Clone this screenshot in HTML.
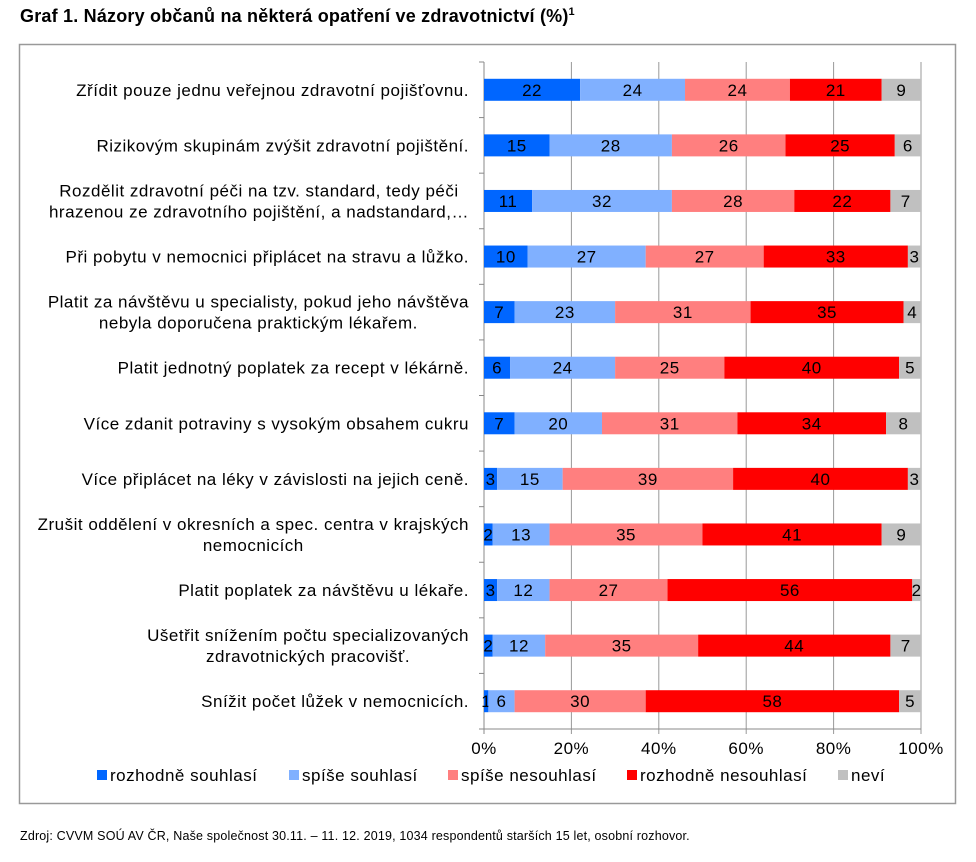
<!DOCTYPE html>
<html><head><meta charset="utf-8"><style>
body{margin:0;background:#fff;}
svg text{font-family:"Liberation Sans",Arial,sans-serif;fill:#000;}
</style></head><body>
<svg id="svg" width="976" height="857" xmlns="http://www.w3.org/2000/svg">
<text x="20" y="22" font-size="18" font-weight="bold" letter-spacing="0.2">Graf 1. Názory občanů na některá opatření ve zdravotnictví (%)<tspan font-size="11" dy="-7">1</tspan></text>
<rect x="19.5" y="44.5" width="936" height="759" fill="#fff" stroke="#999" stroke-width="1.5"/>
<g id="grid"></g><g id="bars"></g><g id="labels"></g><g id="ticks"></g><g id="legend"></g>
<text x="20" y="840" font-size="12.5" letter-spacing="0.18">Zdroj: CVVM SOÚ AV ČR, Naše společnost 30.11. – 11. 12. 2019, 1034 respondentů starších 15 let, osobní rozhovor.</text>
</svg>
<script>
const categories=[
["Zřídit pouze jednu veřejnou zdravotní pojišťovnu."],
["Rizikovým skupinám zvýšit zdravotní pojištění."],
["Rozdělit zdravotní péči na tzv. standard, tedy péči","hrazenou ze zdravotního pojištění, a nadstandard,…"],
["Při pobytu v nemocnici připlácet na stravu a lůžko."],
["Platit za návštěvu u specialisty, pokud jeho návštěva","nebyla doporučena praktickým lékařem."],
["Platit jednotný poplatek za recept v lékárně."],
["Více zdanit potraviny s vysokým obsahem cukru"],
["Více připlácet na léky v závislosti na jejich ceně."],
["Zrušit oddělení v okresních a spec. centra v krajských","nemocnicích"],
["Platit poplatek za návštěvu u lékaře."],
["Ušetřit snížením počtu specializovaných","zdravotnických pracovišť."],
["Snížit počet lůžek v nemocnicích."]];
const seriesNames=["rozhodně souhlasí","spíše souhlasí","spíše nesouhlasí","rozhodně nesouhlasí","neví"];
const s1=[22,15,11,10,7,6,7,3,2,3,2,1];
const s2=[24,28,32,27,23,24,20,15,13,12,12,6];
const s3=[24,26,28,27,31,25,31,39,35,27,35,30];
const s4=[21,25,22,33,35,40,34,40,41,56,44,58];
const s5=[9,6,7,3,4,5,8,3,9,2,7,5];
const ticks=[0,20,40,60,80,100];
const colors=["#0066ff","#80b0ff","#ff7f7f","#ff0000","#c0c0c0"];
const NS="http://www.w3.org/2000/svg";
const X0=484,X1=921,Y0=62,Y1=729;
const FS=17,LS=0.5;
const x=v=>X0+(X1-X0)*v/100;
const band=(Y1-Y0)/categories.length;
const yc=i=>Y0+band*(i+0.5);
function mk(t,a,p){const e=document.createElementNS(NS,t);for(const k in a)e.setAttribute(k,a[k]);p.appendChild(e);return e;}
const G=document.getElementById('grid'),B=document.getElementById('bars'),L=document.getElementById('labels'),T=document.getElementById('ticks'),LG=document.getElementById('legend');
ticks.forEach(t=>{
 const l=mk('line',{x1:x(t),x2:x(t),y1:Y0,y2:Y1+5,stroke:t===0?'#888':'#999','stroke-width':1},G);
 
 
 const tx=mk('text',{x:x(t),y:Y1+25,'font-size':FS,'letter-spacing':LS,'text-anchor':'middle'},T);tx.textContent=t+'%';
 
 
});
mk('line',{x1:X0,x2:X1,y1:Y1,y2:Y1,stroke:'#888'},G);
for(let i=0;i<=categories.length;i++){mk('line',{x1:X0-5,x2:X0,y1:Y0+band*i,y2:Y0+band*i,stroke:'#888'},G);}
const series=[s1,s2,s3,s4,s5];
categories.forEach((c,i)=>{
 let acc=0;const tot=series.reduce((s,a)=>s+a[i],0);
 series.forEach((s,k)=>{
  const v=s[i]*100/tot;const xa=x(acc),xb=x(acc+v);acc+=v;
  const r=mk('rect',{x:xa,y:yc(i)-11,width:xb-xa,height:22,fill:colors[k]},B);
  
  
  const t=mk('text',{x:(xa+xb)/2,y:yc(i)+6,'font-size':FS,'letter-spacing':LS,'text-anchor':'middle'},B);t.textContent=s[i];
  
  
 });
 const g=mk('text',{'font-size':FS,'letter-spacing':LS},L);
 
 
 const n=c.length;
 const spans=c.map((line,j)=>{
  const ts=mk('tspan',{x:469,y:yc(i)+6+(j-(n-1)/2)*21},g);
  ts.textContent=line;return ts;
 });
 if(n===1){g.setAttribute('text-anchor','end');}
 else{
  const w=Math.max(...spans.map(s=>s.getComputedTextLength()));
  g.setAttribute('text-anchor','middle');
  spans.forEach(s=>s.setAttribute('x',469-w/2));
 }
});
const lx=[97,289,448,627,838];
seriesNames.forEach((s,k)=>{
 const r=mk('rect',{x:lx[k],y:770,width:10,height:10,fill:colors[k]},LG);
 
 
 const t=mk('text',{x:lx[k]+13,y:781,'font-size':FS,'letter-spacing':LS},LG);t.textContent=s;
 
 
});
</script>
</body></html>
